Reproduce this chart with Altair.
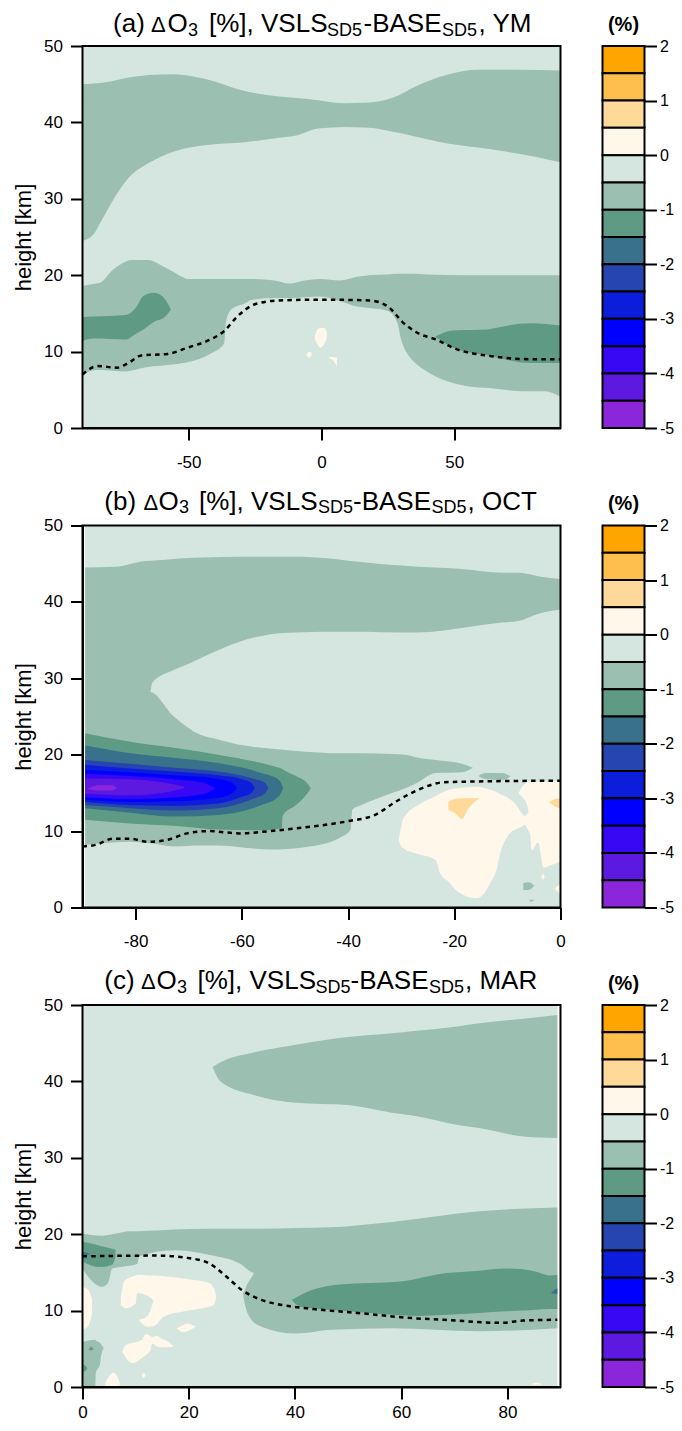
import altair as alt
import pandas as pd

FONT = "Liberation Sans"
W, H = 478, 382
C = dict(o1="#FFA500", o2="#FFBF4D", o3="#FFD999", w="#FFF7EA", l="#D5E5DF", m="#9BBFB1", d="#5F9A84",
         t="#39718A", b1="#2645AE", b2="#0C1EDC", b3="#0000FF", p1="#3608F4", p2="#5E19E1", p3="#8B26DB")

CBAR_LOW = [1.5, 1, 0.5, 0, -0.5, -1, -1.5, -2, -2.5, -3, -3.5, -4, -4.5, -5]
CBAR_COL = [C[k] for k in ["o1", "o2", "o3", "w", "l", "m", "d", "t", "b1", "b2", "b3", "p1", "p2", "p3"]]

# ---------- panel (a): x, lower edge, upper edge
A_UP_X = [-90, -86, -82.6, -77.7, -72, -65, -55.5, -44, -29, -16, -9.5, -1.3, 8.5, 18, 26.6, 36, 48, 59, 72.6, 90]
A_UP_HI = [45, 45.1, 45.2, 45.5, 45.9, 46.2, 46.3, 45.7, 44.1, 43.4, 43.2, 42.9, 42.5, 42.6, 43.2, 44.8, 46.3, 46.9, 46.9, 46.8]
A_UP_LO = [24.5, 25.3, 27.3, 30.3, 33, 34.7, 36.2, 37, 37.4, 38, 38.3, 39.2, 39.4, 39.3, 38.8, 38.1, 37.2, 36.7, 36, 34.8]

A_LOW_X = [-90, -85, -83.4, -78.5, -73.6, -72, -65.4, -58.8, -52, -50.6, -42, -36.6, -36, -34, -29, -26, -17.8, -12, -6.3,
           -0.5, 7, 13.4, 18, 25, 28.5, 30, 33, 35, 39.7, 54.5, 64, 76, 84, 90]
A_LOW_LO = [7, 7.6, 7.6, 7.5, 7.4, 7.5, 8, 8.2, 8.5, 8.6, 9.7, 11.1, 13.8, 15.5, 16.3, 16.8, 17, 17, 17.1,
            17.2, 16.6, 15.9, 15.7, 15.3, 13.8, 11.6, 9.4, 8.6, 7.4, 5.5, 5.2, 4.8, 4.8, 4.1]
A_LOW_HI = [18.6, 18.9, 19, 20.7, 21.8, 22, 22, 21, 19.7, 19.5, 19.5, 19.5, 19.5, 19.5, 19.5, 19.5, 19.3, 18.9, 19.3,
            19.5, 19.3, 19.8, 20, 20.1, 20.2, 20.2, 20.2, 20.2, 20.1, 20, 20, 20, 20, 20]

A_D1_X = [-90, -86, -73.6, -70, -67, -63, -58.8, -56.7]
A_D1_LO = [11.4, 11.7, 11.6, 12.3, 12.9, 13.9, 14.6, 15.5]
A_D1_HI = [14.5, 14.6, 14.8, 15.7, 17.3, 17.7, 16.8, 15.5]
A_D2_X = [43, 48, 51, 62.7, 64, 79, 90]
A_D2_LO = [11.9, 10.8, 10.3, 9.5, 9.4, 8.5, 8.5]
A_D2_HI = [12, 12.7, 12.8, 12.9, 13, 13.7, 13.4]
A_W1 = ([-2.5, -1.5, -0.5, 1, 2], [11.7, 10.9, 10.5, 11, 11.7], [12, 12.9, 13.1, 13.1, 12.6])
A_W2 = ([-5.7, -4.6, -3.6], [9.5, 9.2, 9.7], [9.6, 10, 9.8])
A_W3 = ([3, 4.5, 5.8], [9.1, 8.8, 8], [9.3, 9.3, 9.2])
A_TROP_X = [-90, -84.3, -77, -72.8, -67.8, -58, -50.6, -42.4, -36.6, -31.7, -25, -16, 0, 18, 25, 30.7, 36.4, 43, 51, 64, 79, 90]
A_TROP_Y = [7, 8.1, 7.9, 8.5, 9.5, 9.7, 10.5, 11.5, 12.7, 14.6, 16.2, 16.7, 16.8, 16.7, 15.9, 13.8, 12.4, 11.6, 10.3, 9.4, 9, 9]

# ---------- panel (b)
B_UP = ([-89.5, -84, -77.3, -76.9, -72.8, -71, -67, -60.4, -53, -49.8, -44, -40, -26.8, -18.6, -11, -7.9, -3.8, 0],
        [28, 28, 28, 29.4, 31.1, 31.6, 32.9, 34.8, 35.9, 36, 36.1, 36.1, 36, 36.6, 37.3, 37.5, 38.5, 39],
        [44.5, 44.6, 45.4, 45.4, 45.6, 45.7, 45.8, 45.9, 45.9, 45.9, 45.7, 45.4, 44.6, 44.3, 43.8, 43.8, 43.3, 43])
B_LOW = ([-89.5, -81, -77.3, -72.8, -67.8, -64.5, -60.4, -54.7, -48.1, -41.6, -39.5, -39.2, -37.5, -31.7, -29.2, -26.8, -23.5, -18.6, -16.5],
         [8.2, 8.6, 8.4, 8, 8.1, 8.1, 7.9, 7.6, 7.9, 9.1, 10.2, 12.8, 13.4, 15, 15.6, 16.4, 17.6, 17.7, 18.3],
         [28.2, 28.2, 28.2, 25, 22.6, 22, 21.3, 20.8, 20.4, 20.2, 20.2, 20.2, 20.2, 20.1, 20, 19.6, 19.3, 18.8, 18.3])
B_D = ([-89.5, -81, -72.8, -64.5, -56.3, -53, -52.5, -52.3, -49.8, -47.6, -47],
       [11.5, 11, 10.7, 10.2, 10.1, 10.3, 10.4, 12, 13.4, 15, 15.6],
       [22.8, 21.7, 20.9, 20, 18.9, 18.3, 18.2, 18.1, 17.2, 16.2, 15.6])
B_T = ([-89.5, -81, -72.8, -64.5, -56.3, -53, -52.2],
       [13, 12.4, 11.9, 12.1, 13.4, 14.6, 15.6],
       [21.2, 20.2, 19.6, 18.9, 17.6, 16.7, 15.6])
B_B1 = ([-89.5, -81, -72.8, -64.5, -58, -55.6, -55],
        [13.4, 13, 12.7, 13, 14.2, 15, 15.6],
        [19.3, 18.8, 18.3, 17.8, 16.9, 16.3, 15.6])
B_B2 = ([-89.5, -81, -72.8, -64.5, -60, -58.2, -57.6],
        [13.8, 13.4, 13.3, 13.6, 14.5, 15, 15.6],
        [18.7, 18.2, 17.8, 17.3, 16.8, 16.3, 15.6])
B_B3 = ([-89.5, -81, -72.8, -65, -62, -60.8],
        [14.1, 13.8, 13.9, 14.3, 14.9, 15.6],
        [18, 17.7, 17.3, 16.9, 16.4, 15.6])
B_P1 = ([-89.5, -81, -72.8, -67, -65], [14.4, 14.2, 14.4, 14.9, 15.6], [17.5, 17.2, 16.8, 16.3, 15.6])
B_P2 = ([-89.5, -81, -75, -70.8], [14.9, 14.7, 15, 15.6], [16.9, 16.8, 16.4, 15.8])
B_P3 = ([-89, -87, -84.5, -83.6], [15.5, 15.3, 15.3, 15.6], [15.6, 16, 16, 15.7])
B_W1 = ([-30.5, -30, -29.7, -26.8, -23.5, -22.7, -21, -19.4, -15.7, -13.2, -12, -11.2, -10.4, -10, -8.2, -7.5, -6.7, -6, -5.2],
        [8.9, 8, 7.8, 7, 6.2, 4.5, 3.3, 2.1, 1.2, 3.2, 5, 7.5, 8.8, 9.3, 10.3, 10.5, 10.8, 10, 9],
        [8.9, 10.5, 11.5, 13.4, 14.6, 14.9, 15.4, 15.6, 15.8, 15.4, 15.1, 14.8, 14.6, 14.4, 13.3, 12.5, 12, 12.5, 13])
B_W2 = ([-7.9, -7, -6.4, -5.9, -5.4, -4.2, -3.2, -2, -0.4, 0],
        [14.9, 14.3, 13.6, 12, 7.5, 8.5, 5.2, 5.5, 5.9, 6],
        [15, 16, 16.4, 16.5, 16.5, 16.5, 16.5, 16.5, 16.6, 16.6])
B_O1 = ([-21.1, -20, -18.5, -17.5, -15.4], [12.8, 12.4, 11.6, 12.8, 14.2], [13.8, 14.2, 14.3, 14.3, 14.3])
B_O2 = ([-2.1, -1, 0], [13.7, 13.2, 13], [13.8, 14.2, 14.3])
B_M1 = ([-15.3, -14, -11, -9.5], [17.1, 16.8, 16.7, 17.1], [17.3, 17.6, 17.6, 17.2])
B_M2 = ([-7, -6, -5], [2.3, 2.3, 2.8], [3.2, 3.3, 2.9])
B_M3 = ([-5.8, -5.3, -5], [0.8, 0.8, 0.9], [1, 1, 1])
B_W3 = ([-3.6, -3.3, -3], [3.9, 3.7, 3.9], [4.1, 4.4, 4.1])
B_W4 = ([-1, -0.4, 0], [2.4, 2, 1.6], [2.5, 2.9, 3])
B_TROP_X = [-90, -87.5, -84.3, -81, -77.7, -74.4, -70.3, -66.2, -60.4, -54.7, -48, -40, -35, -30.9, -26.8, -21.9, -15.3, 0]
B_TROP_Y = [8, 8.2, 9, 9, 8.6, 8.8, 9.7, 10, 9.7, 10, 10.5, 11.3, 12.1, 13.9, 15.4, 16.4, 16.5, 16.6]

# ---------- panel (c)
C_UP = ([24.5, 26, 32.4, 40.2, 50, 58.3, 62.4, 70.6, 74.7, 83, 89.4],
        [41.9, 40, 38.2, 37.2, 36.9, 35.9, 35.5, 34.3, 33.9, 32.8, 32.6],
        [41.9, 42.5, 43.8, 44.8, 45.8, 46.3, 46.6, 47.2, 47.6, 48.2, 48.7])
C_LOW = ([0, 1.6, 3.7, 4.8, 5.6, 9, 10.3, 10.7, 17.2, 23.8, 30, 30.2, 31.6, 33.7, 40.2, 46.8, 58.3, 74.7, 89.4],
         [15.5, 14, 13.1, 13.6, 15.5, 15.9, 16.1, 17.1, 17.9, 17.3, 16, 12.3, 9, 7.9, 7, 7.5, 7.7, 7.3, 7.7],
         [20.1, 19.9, 19.8, 19.9, 20, 20.4, 20.4, 20.4, 20.6, 20.7, 20.7, 20.7, 20.7, 20.7, 20.8, 20.9, 21.6, 23, 23.5])
C_PATCH = ([29.4, 30.2, 31, 32.3], [12.3, 12.3, 13.4, 14.9], [16.2, 15.9, 15.4, 14.9])
C_D1 = ([0, 3.3, 5.6, 6.2], [16.4, 15.7, 16, 17], [19, 18.5, 18.1, 18])
C_T1 = ([0, 0.6, 1.3], [17.1, 17.2, 17.4], [17.7, 17.6, 17.5])
C_D2 = ([39.4, 41, 41.9, 48.4, 59.9, 63.2, 66.5, 74.7, 79.6, 82.9, 85.4, 87.9, 89.4],
        [11.4, 10.5, 10.4, 10, 9.4, 9.3, 9.4, 9.7, 9.9, 10, 10.1, 10.2, 10.2],
        [11.4, 12, 12.3, 13.4, 13.8, 14.2, 14.7, 15.2, 15.5, 15.4, 15.1, 14.6, 14.7])
C_T2 = ([88.2, 88.8, 89.4], [12.3, 12.2, 12.2], [12.3, 12.7, 12.9])
C_W1 = ([7.2, 7.8, 8.1, 10, 10.3, 13.3, 13.4, 15.3, 20, 23.8, 24.7, 25.2],
        [10.7, 10.4, 10.3, 10.9, 12.3, 11.4, 8, 9.2, 10, 10.5, 10.7, 11.8],
        [11.5, 13.8, 14, 14.6, 14.7, 14.6, 14.6, 14.5, 14.1, 13.6, 13, 11.8])
C_W2 = ([10.6, 12.2, 13.4], [8.8, 7.9, 8], [8.8, 9.3, 11.4])
C_W3 = ([17.7, 19, 19.7, 21.3], [7.7, 7.2, 7.3, 7.9], [7.7, 8.1, 8.3, 7.9])
C_W4 = ([7.5, 8.1, 9.4, 11.2, 11.9, 12.8, 13.1, 14, 14.4, 16.2, 17.2],
        [4.6, 3.9, 3.1, 3.8, 4.2, 4.8, 5.7, 5.3, 5.2, 5.2, 5.3],
        [4.6, 5.5, 5.8, 6.2, 6.9, 6.7, 6.5, 6.7, 6.5, 5.9, 5.3])
C_W5 = ([4.3, 5, 5.8, 6.5, 7], [0, 0, 0, 0, 0], [0.6, 1.4, 1.9, 1.4, 0.6])
C_W6 = ([0, 1, 1.8], [7.5, 7.9, 9.5], [13.1, 12.8, 11.5])
C_W7 = ([11.2, 11.5, 11.9], [1.5, 1.2, 1.5], [1.6, 1.9, 1.6])
C_W8 = ([84.6, 85.5, 86.4], [0.3, 0.3, 0.3], [0.4, 0.6, 0.4])
C_M1 = ([0, 2.4, 2.5, 3.3, 3.4, 4], [0, 0, 1.8, 3, 3.6, 5.1], [5.9, 6.2, 6.1, 5.8, 5.7, 5.1])
C_D3 = ([1.2, 1.6, 2.1], [4.8, 4.8, 4.9], [4.9, 5.3, 4.9])
C_D4 = ([0, 0.5, 0.9], [2, 2.1, 2.4], [2.9, 2.8, 2.5])
C_TROP_X = [0, 14, 19.7, 23.8, 27, 30, 33.7, 37.8, 43.5, 51.7, 62.4, 68, 78.8, 83, 89.4]
C_TROP_Y = [17.1, 17.2, 16.9, 16.2, 14.5, 12.7, 11.4, 10.7, 10.2, 9.7, 9, 8.8, 8.4, 8.7, 8.8]

Y_TICKS = [0, 10, 20, 30, 40, 50]


def table(xs, los, his):
    return pd.DataFrame({"x": xs, "lo": los, "hi": his})


def panel(xdom, xticks, regions, trop_x, trop_y, bg_x, segments, xpad=14):
    xs = alt.Scale(domain=xdom, nice=False, zero=False)
    ys = alt.Scale(domain=[0, 50], nice=False)
    xaxis = alt.Axis(values=xticks, title=None, grid=False, labelPadding=xpad, labelExpr="'' + datum.value")
    yaxis = alt.Axis(values=Y_TICKS, title="height [km]", grid=False, labelExpr="'' + datum.value")
    layers = []
    for (xv, lo, hi), col in [((bg_x, [0, 0], [50, 50]), C["l"])] + regions:
        layers.append(alt.Chart(table(xv, lo, hi)).mark_area(color=col, opacity=1, interpolate="monotone").encode(
            x=alt.X("x:Q", scale=xs, axis=xaxis), y=alt.Y("lo:Q", scale=ys, axis=yaxis), y2="hi:Q"))
    layers.append(alt.Chart(pd.DataFrame({"x": trop_x, "y": trop_y})).mark_line(
        color="black", strokeWidth=2.5, strokeDash=[4.5, 4.2], interpolate="monotone").encode(
        x=alt.X("x:Q", scale=xs, axis=xaxis), y=alt.Y("y:Q", scale=ys, axis=yaxis)))
    one = alt.Data(values=[{"k": 1}])
    layers.append(alt.Chart(one).mark_rect(fill=None, stroke="black", strokeWidth=2).encode(
        x=alt.value(0), x2=alt.value(W), y=alt.value(0), y2=alt.value(H)))
    for text, px, size, base in segments:
        layers.append(alt.Chart(alt.Data(values=[{"t": text}])).mark_text(
            font=FONT, fontSize=size, align="left", baseline="alphabetic", color="black").encode(
            text="t:N", x=alt.value(px - 82), y=alt.value(base)))
    return alt.layer(*layers).properties(width=W, height=H)


def title_segments(prefix, suffix, st, bm=-16):
    m, s = 26, 18
    bs = bm + 3.5
    return [(prefix, st[0], m, bm), ("\u0394", st[1], 22, bm), ("O", st[2], m, bm), ("3", st[3], s, bs),
            ("[%], VSLS", st[4], m, bm), ("SD5", st[5], s, bs), ("-BASE", st[6], m, bm), ("SD5", st[7], s, bs),
            (suffix, st[8], m, bm)]


def colorbar():
    ys = alt.Scale(domain=[-5, 2], nice=False)
    df = pd.DataFrame({"lo": CBAR_LOW, "hi": [v + 0.5 for v in CBAR_LOW], "c": CBAR_COL})
    bars = alt.Chart(df).mark_rect(stroke="black", strokeWidth=2).encode(
        x=alt.value(0), x2=alt.value(42),
        y=alt.Y("lo:Q", scale=ys, axis=alt.Axis(orient="right", values=[-5, -4, -3, -2, -1, 0, 1, 2], title=None, grid=False,
                                                domain=False, labelPadding=3, labelFontSize=16, labelExpr="'' + datum.value")),
        y2="hi:Q", fill=alt.Fill("c:N", scale=None))
    lab = alt.Chart(alt.Data(values=[{"t": "(%)"}])).mark_text(
        font=FONT, fontSize=20, fontWeight="bold", align="center", baseline="alphabetic", color="black").encode(
        text="t:N", x=alt.value(21), y=alt.value(-15.5))
    return alt.layer(bars, lab).properties(width=42, height=H)


pa = panel([-90, 90], [-50, 0, 50],
           [((A_UP_X, A_UP_LO, A_UP_HI), C["m"]), ((A_LOW_X, A_LOW_LO, A_LOW_HI), C["m"]),
            ((A_D1_X, A_D1_LO, A_D1_HI), C["d"]), ((A_D2_X, A_D2_LO, A_D2_HI), C["d"]),
            (A_W1, C["w"]), (A_W2, C["w"]), (A_W3, C["w"])],
           A_TROP_X, A_TROP_Y, [-90, 90],
           title_segments("(a) ", ", YM", [112.6, 150.5, 167, 187.5, 208.5, 326.4, 363, 441.5, 478], bm=-14))
pb = panel([-90, 0], [-80, -60, -40, -20, 0],
           [(B_UP, C["m"]), (B_LOW, C["m"]), (B_D, C["d"]), (B_T, C["t"]), (B_B1, C["b1"]), (B_B2, C["b2"]),
            (B_B3, C["b3"]), (B_P1, C["p1"]), (B_P2, C["p2"]), (B_P3, C["p3"]),
            (B_W1, C["w"]), (B_W2, C["w"]), (B_O1, C["o3"]), (B_O2, C["o3"]),
            (B_M1, C["m"]), (B_M2, C["m"]), (B_M3, C["m"]), (B_W3, C["w"]), (B_W4, C["w"])],
           B_TROP_X, B_TROP_Y, [-89.5, 0],
           title_segments("(b) ", ", OCT", [103.8, 143, 158, 178.5, 198.5, 317.6, 352.5, 431, 467]))
pc = panel([0, 90], [0, 20, 40, 60, 80],
           [(C_UP, C["m"]), (C_LOW, C["m"]), (C_PATCH, C["l"]), (C_D1, C["d"]), (C_T1, C["t"]), (C_D2, C["d"]), (C_T2, C["t"]),
            (C_M1, C["m"]), (C_W1, C["w"]), (C_W2, C["w"]), (C_W3, C["w"]), (C_W4, C["w"]), (C_W5, C["w"]), (C_W6, C["w"]),
            (C_W7, C["w"]), (C_W8, C["w"]), (C_D3, C["d"]), (C_D4, C["d"])],
           C_TROP_X, C_TROP_Y, [0, 89.4],
           title_segments("(c) ", ", MAR", [103.8, 140.5, 156, 176.5, 197, 315, 350, 428.5, 464.5]), xpad=5)

chart = alt.concat(pa, colorbar(), pb, colorbar(), pc, colorbar(), columns=2,
                   spacing=alt.RowColnumber(row=97.5, column=42), bounds="flush"
                   ).properties(autosize="none", padding={"left": 74.5, "top": 38, "right": 591.5, "bottom": 1377}
                   ).configure_view(stroke=None
                   ).configure_axis(labelFont=FONT, titleFont=FONT, labelFontSize=17, titleFontSize=22, titleFontWeight="normal",
                                    labelColor="black", titleColor="black", domainColor="black", tickColor="black",
                                    domainWidth=2, tickWidth=2, tickSize=12, labelPadding=8, labelFlush=False,
                                    labelOverlap=False, titlePadding=8, zindex=1)

chart.save("out.html", embed_options={"renderer": "svg", "actions": False})
